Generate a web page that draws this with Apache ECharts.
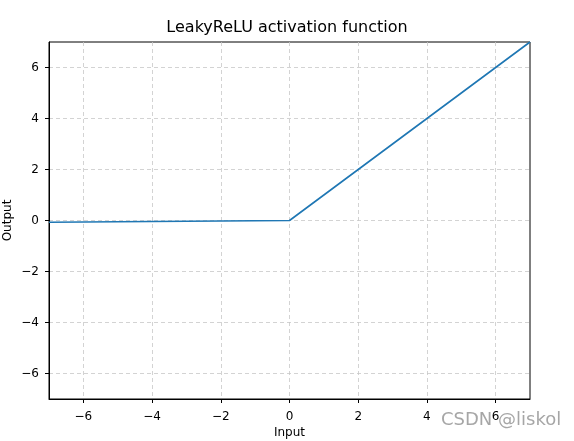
<!DOCTYPE html>
<html><head><meta charset="utf-8">
<script src="https://cdn.jsdelivr.net/npm/echarts@6/dist/echarts.min.js"></script>
<style>html,body{margin:0;padding:0;background:#fff}#c{width:574px;height:441px}</style>
</head><body><div id="c"></div>
<script>
var inputs = [-7, -6, -5, -4, -3, -2, -1, 0, 1, 2, 3, 4, 5, 6, 7];
var outputs = [-0.07, -0.06, -0.05, -0.04, -0.03, -0.02, -0.01, 0, 1, 2, 3, 4, 5, 6, 7];
var tickValues = [-6, -4, -2, 0, 2, 4, 6];
var titleText = 'LeakyReLU activation function';
var xName = 'Input';
var yName = 'Output';
var watermark = 'CSDN @liskol';

var font = 'DejaVu Sans';
var chart = echarts.init(document.getElementById('c'));
function axis(name, gap, rot, margin) {
  return {
    type: 'value', min: -7, max: 7,
    name: name, nameLocation: 'middle', nameGap: gap, nameRotate: rot, nameMoveOverlap: false,
    nameTextStyle: {fontFamily: font, fontSize: 12, color: '#000'},
    axisLine: {show: true, onZero: false, lineStyle: {color: '#000', width: 1}},
    axisTick: {show: true, inside: false, length: 4, customValues: tickValues, lineStyle: {color: '#000'}},
    axisLabel: {customValues: tickValues, fontFamily: font, fontSize: 12, color: '#000', margin: margin,
      formatter: function (v) { return v < 0 ? '\u2212' + (-v) : String(v); }},
    splitLine: {show: true, lineStyle: {color: '#c8c8c8', type: [4, 3], width: 0.8}}
  };
}
chart.setOption({
  animation: false,
  title: {text: titleText, left: 'center', top: 15,
    textStyle: {fontFamily: font, fontSize: 16, fontWeight: 'normal', color: '#000'}},
  grid: {left: 49, top: 42, width: 481, height: 357, outerBoundsMode: 'none', containLabel: false,
    show: true, borderColor: '#000', borderWidth: 1, backgroundColor: 'transparent'},
  xAxis: axis(xName, 28, 0, 12),
  yAxis: axis(yName, 35, 90, 10),
  series: [{type: 'line', data: inputs.map(function (x, i) { return [x, outputs[i]]; }),
    showSymbol: false, symbol: 'none', lineStyle: {color: '#1f77b4', width: 1.6}, clip: true}],
  graphic: [{type: 'text', left: 441, top: 411, style: {text: watermark, fontFamily: font, fontSize: 18, fill: 'rgba(150,150,150,0.85)'}}]
});
</script></body></html>
